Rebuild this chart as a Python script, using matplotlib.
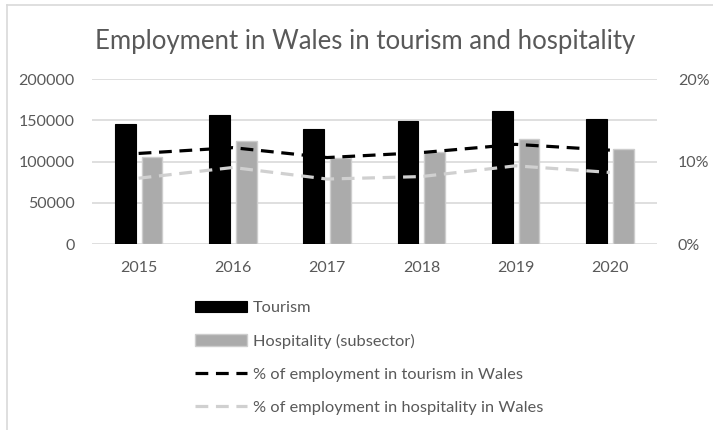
import matplotlib
matplotlib.use("Agg")
import matplotlib.pyplot as plt
from matplotlib.lines import Line2D
from matplotlib.ticker import FuncFormatter, MultipleLocator
import numpy as np

plt.rcParams['font.family'] = ['Lato', 'DejaVu Sans']

years = ['2015', '2016', '2017', '2018', '2019', '2020']
tourism = [145600, 157000, 139200, 149300, 161700, 151300]
hospitality = [106000, 125600, 104100, 111400, 128000, 115900]
tourism_pct = [11.0, 11.7, 10.5, 11.1, 12.1, 11.4]
hospitality_pct = [8.0, 9.3, 7.9, 8.2, 9.5, 8.7]

title = 'Employment in Wales in tourism and hospitality'
labels = ['Tourism', 'Hospitality (subsector)',
          '% of employment in tourism in Wales',
          '% of employment in hospitality in Wales']

TEXT = '#595959'
GRID = '#d9d9d9'

W, H = 713, 430
fig = plt.figure(figsize=(W / 100, H / 100), dpi=100)

# chart area outline
fig.add_artist(Line2D([7 / W, 7 / W], [0, 1 - 5 / H], color=GRID, lw=1.2,
                      transform=fig.transFigure))
fig.add_artist(Line2D([7 / W, 1], [1 - 5 / H, 1 - 5 / H], color=GRID, lw=1.2,
                      transform=fig.transFigure))

ax = fig.add_axes([91.5 / W, 1 - 244.3 / H, (657 - 91.5) / W, (244.3 - 79.1) / H])
ax2 = ax.twinx()

x = np.arange(len(years))
bw = 0.22
off = 0.142
b1 = ax.bar(x - off, tourism, bw, color='black', edgecolor='black', lw=0.8,
            zorder=2, label=labels[0])
b2 = ax.bar(x + off, hospitality, bw, color='#ababab', edgecolor='#cdcdcd',
            lw=1.0, zorder=2, label=labels[1])

ax.set_xlim(-0.5, len(years) - 0.5)
ax.set_ylim(0, 200000)
ax.yaxis.set_major_locator(MultipleLocator(50000))
ax.grid(axis='y', color=GRID, lw=1.2, zorder=0)
ax.set_axisbelow(True)
ax.set_xticks(x)
ax.set_xticklabels(years)

l1, = ax2.plot(x, np.array(tourism_pct) / 100, color='black', lw=2.3,
               dashes=(4.0, 2.4), label=labels[2], zorder=3)
l2, = ax2.plot(x, np.array(hospitality_pct) / 100, color='#d0d0d0', lw=2.3,
               dashes=(4.0, 2.4), label=labels[3], zorder=3)
ax2.set_ylim(0, 0.2)
ax2.yaxis.set_major_locator(MultipleLocator(0.1))
ax2.yaxis.set_major_formatter(FuncFormatter(lambda v, p: f'{v * 100:.0f}%'))

for a in (ax, ax2):
    for s in a.spines.values():
        s.set_visible(False)
    a.tick_params(length=0, labelsize=11.5, colors=TEXT)
ax.tick_params(axis='y', pad=12)
ax2.tick_params(axis='y', pad=15)
ax.tick_params(axis='x', pad=12)

fig.text(0.512, 1 - 42 / H, title, ha='center', va='center', fontsize=18.5,
         color=TEXT)

leg = fig.legend([b1, b2, l1, l2], labels, loc='upper left',
                 bbox_to_anchor=(195 / W, 1 - 301 / H), frameon=False,
                 borderpad=0, borderaxespad=0, fontsize=11.8,
                 handlelength=3.2, handleheight=0.7, handletextpad=0.35,
                 labelspacing=1.12, labelcolor=TEXT)

fig.savefig('out.png', dpi=100, facecolor='white')
